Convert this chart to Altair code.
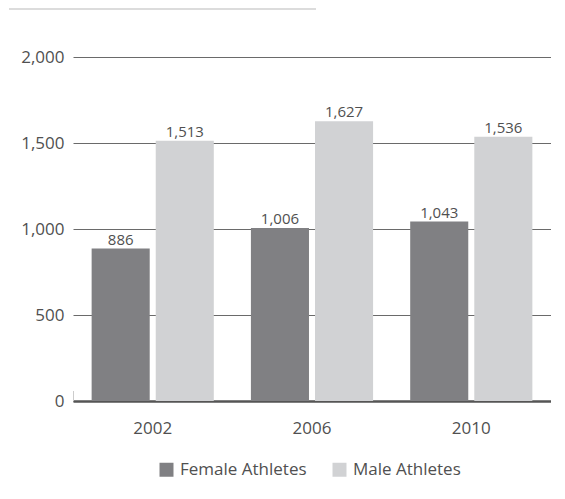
import altair as alt
import pandas as pd

years = ["2002", "2006", "2010"]
female = [886, 1006, 1043]
male = [1513, 1627, 1536]
series = ["Female Athletes", "Male Athletes"]
colors = ["#808083", "#d1d2d4"]
y_ticks = [0, 500, 1000, 1500, 2000]

rows = []
for i, yr in enumerate(years):
    rows.append({"year": yr, "group": series[0], "value": female[i]})
    rows.append({"year": yr, "group": series[1], "value": male[i]})
df = pd.DataFrame(rows)

FONT = "Open Sans"
TXT = "#505050"
FS = 17

x_enc = alt.X(
    "year:N",
    scale=alt.Scale(paddingInner=0.233, paddingOuter=0.117),
    axis=alt.Axis(title=None, labelAngle=0, ticks=False, domainColor="#555555",
                  domainWidth=2.5, labelPadding=19, labelFontSize=FS,
                  labelColor=TXT, labelFont=FONT, grid=False),
)
xoff = alt.XOffset("group:N", scale=alt.Scale(paddingInner=0.094))
y_enc = alt.Y(
    "value:Q",
    scale=alt.Scale(domain=[0, 2000]),
    axis=alt.Axis(title=None, values=y_ticks, format=",d", domain=False, ticks=False,
                  gridColor="#6a6a6a", gridWidth=1, labelPadding=9, labelFontSize=FS,
                  labelColor=TXT, labelFont=FONT),
)

base = alt.Chart(df)
bars = base.mark_bar().encode(
    x=x_enc,
    xOffset=xoff,
    y=y_enc,
    color=alt.Color(
        "group:N",
        scale=alt.Scale(domain=series, range=colors),
        legend=alt.Legend(orient="none", legendX=85, legendY=404, direction="horizontal",
                          title=None, symbolType="square",
                          symbolSize=196, symbolStrokeWidth=0, labelFontSize=FS,
                          labelColor=TXT, labelFont=FONT, columnPadding=24,
                          labelOffset=5, labelLimit=300),
    ),
)
labels = base.mark_text(baseline="alphabetic", dy=-4, fontSize=15, font=FONT,
                        color=TXT).encode(
    x=x_enc, xOffset=xoff, y=y_enc, text=alt.Text("value:Q", format=",d"),
)

deco = pd.DataFrame({"a": [0]})
top_rule = alt.Chart(deco).mark_rule(color="#dcdcdc", strokeWidth=2).encode(
    x=alt.value(-64), x2=alt.value(243), y=alt.value(-48)
)
left_tick = alt.Chart(deco).mark_rule(color="#cccccc", strokeWidth=1).encode(
    x=alt.value(0.5), y=alt.value(334), y2=alt.value(344)
)

chart = (
    alt.layer(bars, labels, top_rule, left_tick)
    .properties(width=478, height=344,
                padding={"left": 0, "top": 0, "right": 0, "bottom": 8})
    .configure_view(stroke=None)
)

chart.save("out.html", embed_options={"renderer": "svg", "actions": False})
